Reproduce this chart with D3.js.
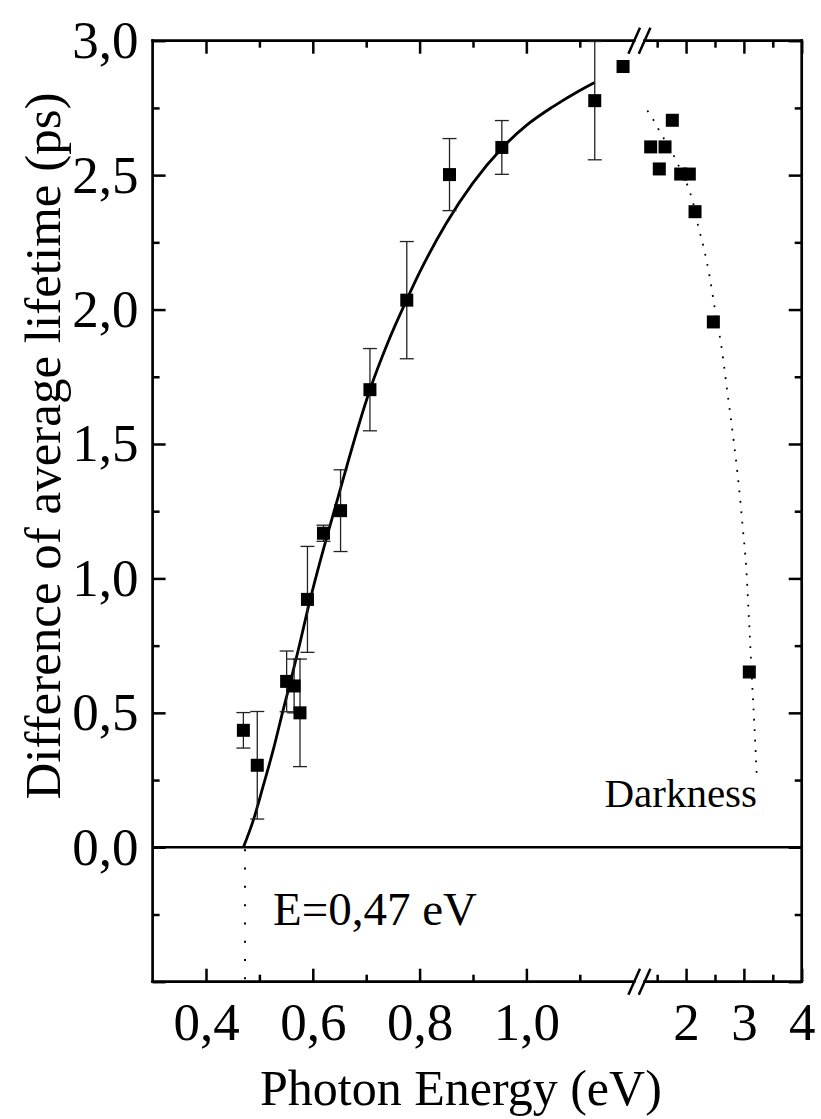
<!DOCTYPE html>
<html>
<head>
<meta charset="utf-8">
<script src="https://cdn.jsdelivr.net/npm/d3@7"></script>
<style>
  body { margin: 0; background: #fff; }
  svg { display: block; }
</style>
</head>
<body>
<div id="viz"></div>
<script>
// data

// measured points, left (linear) part of the axis
const ptE   = [0.470, 0.496, 0.551, 0.565, 0.576, 0.590, 0.620, 0.652, 0.707, 0.776, 0.856, 0.954, 1.128, 1.181];
const ptT   = [0.435, 0.305, 0.617, 0.600, 0.500, 0.922, 1.168, 1.252, 1.702, 2.035, 2.502, 2.603, 2.777, 2.904];
const ptErr = [0.066, 0.200, 0.113, 0.100, 0.200, 0.197, 0.030, 0.152, 0.153, 0.218, 0.134, 0.100, 0.220, 0];

// measured points, right part (after the break)
const rightE = [1.388, 1.537, 1.636, 1.762, 1.907, 2.056, 2.155, 2.472, 3.094];
const rightT = [2.605, 2.523, 2.605, 2.704, 2.504, 2.504, 2.364, 1.954, 0.652];

// solid fit curve
const fitE = [0.470, 0.489, 0.507, 0.526, 0.545, 0.560, 0.576, 0.590, 0.647, 0.707, 0.740, 0.776, 0.800, 0.850, 0.900, 0.954, 1.000, 1.050, 1.100, 1.128];
const fitT = [0.000, 0.103, 0.227, 0.363, 0.515, 0.630, 0.760, 0.880, 1.300, 1.702, 1.875, 2.037, 2.138, 2.321, 2.471, 2.600, 2.685, 2.755, 2.815, 2.845];

// dotted "Darkness" curve
const darkE = [1.33, 1.45, 1.55, 1.77, 1.86, 2.01, 2.13, 2.21, 2.30, 2.41, 2.50, 2.62, 2.71, 2.83, 2.91, 2.98, 3.04, 3.085, 3.12, 3.15, 3.18, 3.20, 3.223];
const darkT = [2.74, 2.70, 2.66, 2.58, 2.54, 2.47, 2.39, 2.31, 2.235, 2.12, 2.00, 1.85, 1.70, 1.50, 1.35, 1.19, 1.04, 0.86, 0.71, 0.58, 0.46, 0.37, 0.264];

const threshold = 0.473;

// ticks
const xMajorLeft  = [0.4, 0.6, 0.8, 1.0];
const xMinorLeft  = [0.5, 0.7, 0.9, 1.1];
const xMajorRight = [2, 3, 4];
const xMinorRight = [1.5, 2.5, 3.5];
const yMajor = [-0.5, 0, 0.5, 1.0, 1.5, 2.0, 2.5, 3.0];
const yMinor = [-0.25, 0.25, 0.75, 1.25, 1.75, 2.25, 2.75];

const W = 821, H = 1119;
const margin = { top: 40.7, left: 152.6, right: 19.3, bottom: 137.3 };
const width = W - margin.left - margin.right;     // 649.1
const height = H - margin.top - margin.bottom;    // 941
const breakL = 480.6, breakR = 493;                // inner break edges

const FONT = "'Liberation Serif', 'Times New Roman', serif";

const svg = d3.select("#viz").append("svg")
  .attr("width", W)
  .attr("height", H);

const g = svg.append("g").attr("transform", `translate(${margin.left},${margin.top})`);

const xL = d3.scaleLinear().domain([0.3, 1.2]).range([0, breakL]);
const xR = d3.scaleLinear().domain([1.3, 4.0]).range([breakR, width]);
const y = d3.scaleLinear().domain([-0.5, 3.0]).range([height, 0]);

const comma = d => d3.format(".1f")(d).replace(".", ",");

function styleAxis(sel) {
  sel.select(".domain").remove();
  sel.selectAll(".tick line").attr("stroke", "#000").attr("stroke-width", 2.5);
  sel.selectAll("text").style("font", `53px ${FONT}`).attr("fill", "#000");
}

// bottom axis
g.append("g").attr("transform", `translate(0,${height})`)
  .call(d3.axisBottom(xL).tickValues(xMajorLeft).tickSize(-13).tickPadding(21).tickFormat(comma))
  .call(styleAxis);
g.append("g").attr("transform", `translate(0,${height})`)
  .call(d3.axisBottom(xL).tickValues(xMinorLeft).tickSize(-7).tickFormat(""))
  .call(styleAxis);
g.append("g").attr("transform", `translate(0,${height})`)
  .call(d3.axisBottom(xR).tickValues(xMajorRight).tickSize(-13).tickPadding(21).tickFormat(d3.format("d")))
  .call(styleAxis);
g.append("g").attr("transform", `translate(0,${height})`)
  .call(d3.axisBottom(xR).tickValues(xMinorRight).tickSize(-7).tickFormat(""))
  .call(styleAxis);

// top axis (ticks only)
g.append("g").call(d3.axisTop(xL).tickValues(xMajorLeft).tickSize(-13).tickFormat("")).call(styleAxis);
g.append("g").call(d3.axisTop(xL).tickValues(xMinorLeft).tickSize(-7).tickFormat("")).call(styleAxis);
g.append("g").call(d3.axisTop(xR).tickValues(xMajorRight).tickSize(-13).tickFormat("")).call(styleAxis);
g.append("g").call(d3.axisTop(xR).tickValues(xMinorRight).tickSize(-7).tickFormat("")).call(styleAxis);

// left axis
g.append("g")
  .call(d3.axisLeft(y).tickValues(yMajor).tickSize(-13).tickPadding(14).tickFormat(d => d < 0 ? "" : comma(d)))
  .call(styleAxis);
g.append("g").call(d3.axisLeft(y).tickValues(yMinor).tickSize(-7).tickFormat("")).call(styleAxis);

// right axis
g.append("g").attr("transform", `translate(${width},0)`)
  .call(d3.axisRight(y).tickValues(yMajor).tickSize(-13).tickFormat("")).call(styleAxis);
g.append("g").attr("transform", `translate(${width},0)`)
  .call(d3.axisRight(y).tickValues(yMinor).tickSize(-7).tickFormat("")).call(styleAxis);

// frame with broken top / bottom
const frame = [
  [0, 0, 0, height],
  [width, 0, width, height],
  [0, 0, breakL + 1, 0],
  [breakR - 1, 0, width, 0],
  [0, height, breakL + 1, height],
  [breakR - 1, height, width, height]
];
g.selectAll("line.frame").data(frame).enter().append("line")
  .attr("class", "frame")
  .attr("x1", d => d[0]).attr("y1", d => d[1])
  .attr("x2", d => d[2]).attr("y2", d => d[3])
  .attr("stroke", "#000").attr("stroke-width", 2.7).attr("stroke-linecap", "square");

// break marks "//"
[0, height].forEach(ay => {
  [breakL + 1, breakR - 1].forEach(cx => {
    g.append("line")
      .attr("x1", cx - 5.8).attr("y1", ay + 13)
      .attr("x2", cx + 5.8).attr("y2", ay - 13)
      .attr("stroke", "#000").attr("stroke-width", 2.5);
  });
});

// zero line
g.append("line")
  .attr("x1", 0).attr("x2", width)
  .attr("y1", y(0)).attr("y2", y(0))
  .attr("stroke", "#000").attr("stroke-width", 2.7);

// threshold dotted line
g.append("line")
  .attr("x1", xL(threshold)).attr("x2", xL(threshold))
  .attr("y1", y(0) + 2).attr("y2", y(-0.5))
  .attr("stroke", "#000").attr("stroke-width", 2)
  .attr("stroke-dasharray", "2,16.3");

// solid fit curve
const fit = fitE.map((e, i) => [e, fitT[i]]);
g.append("path")
  .datum(fit)
  .attr("fill", "none")
  .attr("stroke", "#000")
  .attr("stroke-width", 2.8)
  .attr("d", d3.line().x(d => xL(d[0])).y(d => y(d[1])).curve(d3.curveMonotoneX));

// dotted darkness curve
const dark = darkE.map((e, i) => [e, darkT[i]]);
g.append("path")
  .datum(dark)
  .attr("fill", "none")
  .attr("stroke", "#000")
  .attr("stroke-width", 1.8)
  .attr("stroke-dasharray", "1.8,8.6")
  .attr("d", d3.line().x(d => xR(d[0])).y(d => y(d[1])).curve(d3.curveMonotoneX));

// error bars
const pts = ptE.map((e, i) => ({ e: e, t: ptT[i], err: ptErr[i] }));
const eb = g.selectAll("g.err").data(pts.filter(d => d.err > 0)).enter().append("g").attr("class", "err");
eb.append("line")
  .attr("x1", d => xL(d.e)).attr("x2", d => xL(d.e))
  .attr("y1", d => y(d.t - d.err)).attr("y2", d => y(d.t + d.err))
  .attr("stroke", "#222").attr("stroke-width", 1.3);
eb.append("line")
  .attr("x1", d => xL(d.e) - 7).attr("x2", d => xL(d.e) + 7)
  .attr("y1", d => y(d.t - d.err)).attr("y2", d => y(d.t - d.err))
  .attr("stroke", "#222").attr("stroke-width", 1.3);
eb.append("line")
  .attr("x1", d => xL(d.e) - 7).attr("x2", d => xL(d.e) + 7)
  .attr("y1", d => y(d.t + d.err)).attr("y2", d => y(d.t + d.err))
  .attr("stroke", "#222").attr("stroke-width", 1.3);

// square markers
const S = 13;
g.selectAll("rect.pl").data(pts).enter().append("rect")
  .attr("class", "pl")
  .attr("x", d => xL(d.e) - S / 2).attr("y", d => y(d.t) - S / 2)
  .attr("width", S).attr("height", S).attr("fill", "#000");

const rpts = rightE.map((e, i) => ({ e: e, t: rightT[i] }));
g.selectAll("rect.pr").data(rpts).enter().append("rect")
  .attr("class", "pr")
  .attr("x", d => xR(d.e) - S / 2).attr("y", d => y(d.t) - S / 2)
  .attr("width", S).attr("height", S).attr("fill", "#000");

// annotations
svg.append("text")
  .attr("x", 273).attr("y", 925)
  .style("font", `47px ${FONT}`)
  .text("E=0,47 eV");

svg.append("text")
  .attr("x", 757).attr("y", 807)
  .attr("text-anchor", "end")
  .style("font", `41px ${FONT}`)
  .text("Darkness");

// axis titles
svg.append("text")
  .attr("x", 260).attr("y", 1105)
  .style("font", `50px ${FONT}`)
  .text("Photon Energy (eV)");

svg.append("text")
  .attr("transform", "translate(60,446) rotate(-90)")
  .attr("text-anchor", "middle")
  .style("font", `51px ${FONT}`)
  .text("Difference of average lifetime (ps)");
</script>
</body>
</html>
